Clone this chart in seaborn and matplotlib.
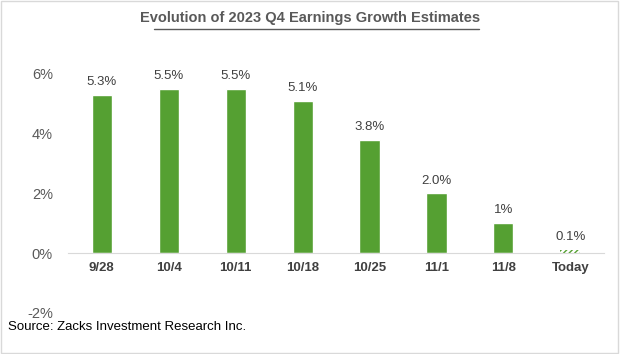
import matplotlib
matplotlib.use("Agg")
import matplotlib.pyplot as plt
import seaborn as sns
import pandas as pd
from matplotlib.patches import Rectangle

categories = ["9/28", "10/4", "10/11", "10/18", "10/25", "11/1", "11/8", "Today"]
values = [5.3, 5.5, 5.5, 5.1, 3.8, 2.0, 1.0, 0.1]
value_labels = ["5.3%", "5.5%", "5.5%", "5.1%", "3.8%", "2.0%", "1%", "0.1%"]
yticks = [-2, 0, 2, 4, 6]
ytick_labels = ["-2%", "0%", "2%", "4%", "6%"]

sns.set_style("white")
plt.rcParams['font.family'] = ['Liberation Sans', 'DejaVu Sans']

green = "#55a032"
df = pd.DataFrame({"cat": categories, "val": values})

fig = plt.figure(figsize=(6.2, 3.54), dpi=100)
ax = fig.add_axes([0.11, 0.116, 0.864, 0.675])
sns.barplot(data=df, x="cat", y="val", color=green, width=0.3, saturation=1, ax=ax)

# Today bar: hatched
last = ax.patches[-1]
last.set_facecolor("white")
last.set_edgecolor(green)
last.set_hatch("//////")
last.set_linewidth(0)
plt.rcParams['hatch.color'] = green
plt.rcParams['hatch.linewidth'] = 1.2

ax.set_ylim(-2, 6)
ax.set_xlim(-0.5, len(categories) - 0.5)
ax.set_yticks(yticks)
ax.set_yticklabels(ytick_labels, color="#595959", fontsize=10.5)
ax.set_xlabel("")
ax.set_ylabel("")
for s in ["top", "right", "left"]:
    ax.spines[s].set_visible(False)
ax.spines["bottom"].set_position(("data", 0))
ax.spines["bottom"].set_color("#d9d9d9")
ax.tick_params(axis="both", length=0)
ax.tick_params(axis="y", pad=11)
ax.tick_params(axis="x", pad=6)
for lbl in ax.get_xticklabels():
    lbl.set_fontweight("bold")
    lbl.set_color("#404040")
    lbl.set_fontsize(9.5)

for i, (v, t) in enumerate(zip(values, value_labels)):
    ax.annotate(t, (i, v), xytext=(0, 5), textcoords="offset points",
                ha="center", va="bottom", fontsize=9.5, color="#404040")

fig.text(0.5, 0.948, "Evolution of 2023 Q4 Earnings Growth Estimates", ha="center", va="center",
         fontsize=10.5, fontweight="bold", color="#595959")
fig.add_artist(plt.Line2D([0.248, 0.772], [0.917, 0.917], color="#595959", lw=1, transform=fig.transFigure))
fig.text(0.013, 0.075, "Source: Zacks Investment Research Inc.", ha="left", va="center",
         fontsize=9.5, color="black")
fig.add_artist(Rectangle((0.002, 0.003), 0.995, 0.994, transform=fig.transFigure,
                         fill=False, edgecolor="#d9d9d9", lw=1))

fig.savefig("out.png", dpi=100)
